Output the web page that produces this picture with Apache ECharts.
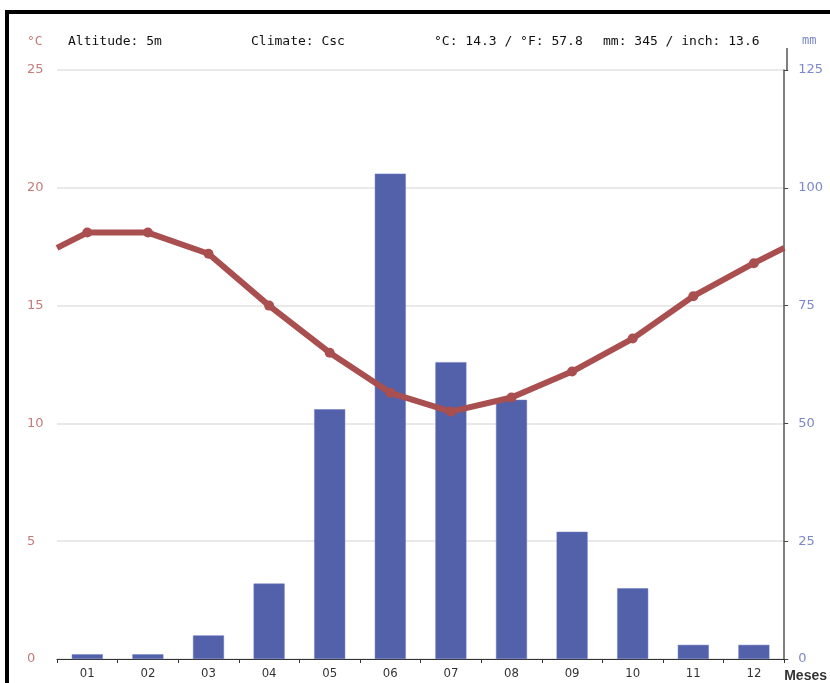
<!DOCTYPE html>
<html>
<head>
<meta charset="utf-8">
<script src="https://cdn.jsdelivr.net/npm/echarts@6/dist/echarts.min.js"></script>
<style>
  html, body { margin: 0; padding: 0; background: #fff; }
  #chart { position: absolute; left: 0; top: 0; width: 830px; height: 683px; }
  #frame { position: absolute; left: 5px; top: 10px; right: 0; bottom: 0;
           border-top: 4px solid #000; border-left: 4px solid #000; pointer-events: none; }
</style>
</head>
<body>
<div id="chart"></div>
<div id="frame"></div>
<script>
// ---- data ----
const months = ['01','02','03','04','05','06','07','08','09','10','11','12'];
const precipitation = [1, 1, 5, 16, 53, 103, 63, 55, 27, 15, 3, 3];           // mm
const temperature = [18.1, 18.1, 17.2, 15.0, 13.0, 11.3, 10.5, 11.1, 12.2, 13.6, 15.4, 16.8]; // °C
const tempEdge = 17.45;   // value drawn at the left/right edge (Dec–Jan wrap)
const tempTicks = [0, 5, 10, 15, 20, 25];
const precTicks = [0, 25, 50, 75, 100, 125];
const headerTexts = ['Altitude: 5m', 'Climate: Csc', '°C: 14.3 / °F: 57.8', 'mm: 345 / inch: 13.6'];

// ---- layout / style ----
const W = 830, H = 683;
const G = { left: 57, right: 43, top: 70, bottom: 23 };
const red = '#a94f4f', blue = '#5261aa';
const redLabel = '#c57b7b', blueLabel = '#7c87c9';
const mono = '"DejaVu Sans Mono", "Liberation Mono", monospace';
const sans = '"DejaVu Sans", "Noto Sans", sans-serif';

const lineData = [{ value: [0, tempEdge], symbol: 'none' }];
temperature.forEach((t, i) => lineData.push([i + 0.5, t]));
lineData.push({ value: [12, tempEdge], symbol: 'none' });

const chart = echarts.init(document.getElementById('chart'), null, { renderer: 'canvas', width: W, height: H });

const headerX = [68, 251, 434, 603];
const titles = headerTexts.map((t, i) => ({
  text: t, left: headerX[i], top: 35, padding: 0,
  textStyle: { fontFamily: mono, fontSize: 13, fontWeight: 'normal', color: '#111' }
}));
titles.push({ text: '°C', left: 27, top: 35, padding: 0,
  textStyle: { fontFamily: mono, fontSize: 13, fontWeight: 'normal', color: redLabel } });
titles.push({ text: 'mm', left: 802, top: 35, padding: 0,
  textStyle: { fontFamily: mono, fontSize: 12, fontWeight: 'normal', color: blueLabel } });

chart.setOption({
  animation: false,
  backgroundColor: '#fff',
  title: titles,
  grid: { left: G.left, right: G.right, top: G.top, bottom: G.bottom, containLabel: false },
  xAxis: [
    {
      type: 'category', data: months, position: 'bottom',
      boundaryGap: true,
      axisLine: { show: true, lineStyle: { color: '#333', width: 1.2 } },
      axisTick: { show: true, alignWithLabel: false, length: 4, inside: false, lineStyle: { color: '#333' } },
      axisLabel: { color: '#333', fontFamily: '"DejaVu Sans Condensed", "DejaVu Sans", sans-serif', fontSize: 13, margin: 8 },
      splitLine: { show: false },
      name: 'Meses', nameLocation: 'end', nameGap: 0,
      nameTextStyle: { color: '#333', fontFamily: '"Liberation Sans", Arial, sans-serif', fontSize: 14, fontWeight: 'bold',
        align: 'left', verticalAlign: 'top', padding: [10, 0, 0, 0] }
    },
    {
      type: 'value', min: 0, max: 12, show: false
    }
  ],
  yAxis: [
    {
      type: 'value', min: tempTicks[0], max: tempTicks[tempTicks.length - 1], interval: 5, position: 'left',
      axisLine: { show: false }, axisTick: { show: false },
      axisLabel: { color: redLabel, fontFamily: sans, fontSize: 13, align: 'left', margin: 30 },
      splitLine: { show: true, lineStyle: { color: '#e2e2e2', width: 1.5 } }
    },
    {
      type: 'value', min: precTicks[0], max: precTicks[precTicks.length - 1], interval: 25, position: 'right',
      axisLine: { show: true, lineStyle: { color: '#555', width: 1.5 } },
      axisTick: { show: true, length: 4, lineStyle: { color: '#444' } },
      axisLabel: { color: blueLabel, fontFamily: sans, fontSize: 13, align: 'left', margin: 14 },
      splitLine: { show: false }
    }
  ],
  series: [
    {
      type: 'bar', name: 'mm', data: precipitation, xAxisIndex: 0, yAxisIndex: 1,
      barWidth: 31, itemStyle: { color: blue, borderColor: '#6b78c0', borderWidth: 0.5 }, z: 2
    },
    {
      type: 'line', name: '°C', data: lineData, xAxisIndex: 1, yAxisIndex: 0,
      symbol: 'circle', symbolSize: 10, showSymbol: true,
      lineStyle: { color: red, width: 6 }, itemStyle: { color: red }, z: 5
    }
  ],
  graphic: [
    { type: 'line', z: 10, shape: { x1: W - G.right, y1: 48, x2: W - G.right, y2: G.top },
      style: { stroke: '#555', lineWidth: 1.5 } }
  ]
});
</script>
</body>
</html>
